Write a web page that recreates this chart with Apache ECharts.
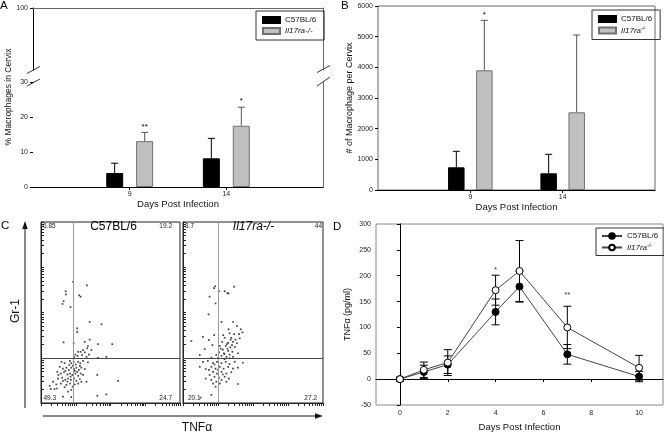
<!DOCTYPE html>
<html><head><meta charset="utf-8">
<script src="https://cdn.jsdelivr.net/npm/echarts@6/dist/echarts.min.js"></script>
<style>html,body{margin:0;padding:0;background:#fff}#c{width:664px;height:433px}</style>
</head><body><div id="c"></div>
<script>
// ---------- Panel A: % macrophages in cervix ----------
const daysAB = ['9', '14'];
const aWildMean = [4.0, 8.2];
const aWildErr = [2.8, 5.7];
const aKoMean = [13.1, 17.5];
const aKoErr = [2.5, 5.3];
const aKoStars = ['**', '*'];
const aTopTick = [100];

// ---------- Panel B: # macrophages per cervix ----------
const bWildMean = [740, 544];
const bWildErr = [522, 619];
const bKoMean = [3903, 2533];
const bKoErr = [1630, 2521];
const bKoStars = ['*', ''];

// ---------- Panel C: flow cytometry (log10 fluorescence, TNFa vs Gr-1) ----------
const cGateX = [0.92, 1.0];
const cGateY = [1.0, 1.0];
const cQuadWild = ['6.85', '19.2', '49.3', '24.7'];
const cQuadKo = ['8.7', '44', '20.1', '27.2'];
const cWild = [[.92,2.68],[1.32,2.60],[.71,2.47],[.72,2.40],[1.10,2.38],[1.14,2.35],[.65,2.25],[.62,2.19],[.85,2.12],[1.40,1.79],[1.74,1.74],[1.04,1.65],[1.04,1.57],[.65,1.34],[.94,1.32],[1.26,1.35],[1.40,1.40],[1.64,1.30],[2.05,1.30],[1.35,1.26],[1.33,1.21],[1.21,1.17],[1.14,1.13],[1.07,1.13],[1.26,1.12],[1.45,1.17],[.99,1.07],[1.05,1.04],[1.18,1.06],[1.38,1.07],[1.88,1.02],[1.64,1.00],[1.31,1.02],[.95,1.02],
[.59,.91],[.68,.88],[.83,.93],[.87,.88],[.94,.91],[1.0,.85],[1.07,.91],[1.13,.88],[1.21,.93],[1.35,.90],[.54,.80],[.63,.76],[.73,.78],[.80,.73],[.87,.78],[.95,.75],[1.02,.78],[1.09,.73],[1.16,.78],[1.26,.75],[.47,.69],[.57,.65],[.66,.68],[.76,.63],[.83,.65],[.90,.62],[.99,.65],[1.07,.60],[1.14,.65],[1.21,.62],[1.62,.62],[.49,.54],[.61,.56],[.70,.51],[.78,.54],[.86,.51],[.95,.54],[1.02,.49],[1.12,.53],[1.31,.47],[2.22,.49],[.35,.47],[.25,.38],[.44,.41],[.57,.43],[.73,.40],[.84,.43],[.97,.41],[1.07,.43],[.39,.31],[.46,.32],[.68,.35],[.87,.29],[.28,.31],[.63,.14],[.87,.13],[1.62,.16],[1.88,.19],[.78,.25],[1.16,.47],[.50,.62],[.92,.82],[.81,.84],[1.04,.69],[.70,.71],[.85,.58],[.97,.71],[1.12,.82],[.76,.47],[.63,.49],[.91,.36]];
const cKo = [[.92,2.58],[.89,2.54],[1.03,2.47],[1.19,2.47],[1.27,2.43],[1.30,2.42],[1.46,2.57],[.76,2.35],[.93,2.20],[.73,1.96],[1.10,1.79],[1.43,1.79],[1.54,1.70],[1.65,1.63],[1.30,1.63],[1.33,1.54],[1.46,1.52],[1.60,1.52],[1.70,1.56],[.89,1.50],[.57,1.46],[1.19,1.44],[1.38,1.44],[1.62,1.43],[.24,1.37],[.74,1.39],[1.12,1.35],[1.29,1.33],[1.43,1.35],[1.54,1.32],[.84,1.28],[1.05,1.26],[1.22,1.26],[1.35,1.23],[1.48,1.24],[.62,1.19],[1.14,1.18],[1.29,1.15],[1.41,1.13],[1.03,1.12],[1.17,1.10],[1.33,1.07],[.95,1.06],[1.10,1.04],[1.24,1.02],[1.43,1.02],[.48,1.06],[1.57,1.10],[1.08,1.20],[1.25,1.30],[1.36,1.40],[1.15,1.50],[1.50,1.40],[1.27,1.20],[1.40,1.28],[1.18,1.08],
[.57,.91],[.71,.93],[.86,.88],[.97,.91],[1.10,.88],[1.22,.91],[1.33,.86],[1.71,.89],[.48,.80],[.81,.80],[.93,.76],[1.05,.80],[1.16,.76],[1.29,.80],[1.43,.76],[1.57,.78],[.86,.69],[.97,.65],[1.10,.69],[1.24,.65],[1.38,.68],[.76,.62],[.90,.58],[1.03,.56],[1.19,.58],[1.31,.54],[.81,.51],[.95,.47],[1.10,.51],[.65,.54],[.86,.43],[1.05,.43],[1.24,.47],[1.57,.42],[.93,.36],[.81,.18],[.50,.12],[.65,.75],[.74,.73],[1.0,.73],[1.14,.63],[.90,.85],[1.0,.99],[1.19,.97],[1.33,.99],[.81,1.0],[1.48,.91]];

// ---------- Panel D: TNFa over time ----------
const daysD = [0, 1, 2, 4, 5, 7, 10];
const dWildMean = [0, 14, 28, 130, 179, 48, 5];
const dWildErr = [3, 13, 17, 25, 30, 19, 10];
const dKoMean = [0, 18, 32, 172, 209, 100, 22];
const dKoErr = [4, 15, 25, 29, 59, 41, 24];
const dStars = [[4, 212, '*'], [7, 164, '**']];
const dTicks = [0, 2, 4, 6, 8, 10];

const FONT = 'Liberation Sans';
const catsAB = [''].concat(daysAB, ['']);
const pad = a => ['-'].concat(a, ['-']);
const logTicks = [];
for (let d = 0; d < 4; d++) for (let k = 1; k <= 9; k++) logTicks.push(d + Math.log10(k));
logTicks.push(4);
const plain = v => String(v);

function upErr(offset, color, stars) {
  return function (params, api) {
    const x = api.value(0), m = api.value(1), e = api.value(2);
    const p0 = api.coord([x, m]), p1 = api.coord([x, m + e]);
    const cx = p0[0] + offset;
    const ch = [
      {type: 'line', shape: {x1: cx, y1: p0[1], x2: cx, y2: p1[1]}, style: {stroke: color, lineWidth: 1}},
      {type: 'line', shape: {x1: cx - 3.5, y1: p1[1], x2: cx + 3.5, y2: p1[1]}, style: {stroke: color, lineWidth: 1}}
    ];
    if (stars && stars[params.dataIndex]) {
      ch.push({type: 'text', x: cx, y: p1[1] - 6, style: {text: stars[params.dataIndex], fontSize: 8, fontFamily: FONT, fill: '#000', align: 'center', verticalAlign: 'middle'}});
    }
    return {type: 'group', children: ch};
  };
}
function bothErr(params, api) {
  const x = api.value(0), m = api.value(1), e = api.value(2);
  const a = api.coord([x, m - e]), b = api.coord([x, m + e]);
  const st = {stroke: '#000', lineWidth: 1};
  return {type: 'group', children: [
    {type: 'line', shape: {x1: a[0], y1: a[1], x2: b[0], y2: b[1]}, style: st},
    {type: 'line', shape: {x1: a[0] - 4, y1: a[1], x2: a[0] + 4, y2: a[1]}, style: st},
    {type: 'line', shape: {x1: b[0] - 4, y1: b[1], x2: b[0] + 4, y2: b[1]}, style: st}
  ]};
}

const black = {lineStyle: {color: '#000', width: 1}};
const edge = {show: true, lineStyle: {color: '#666', width: 1}};
const none = {show: false};
function axisLbl() { return {fontSize: 7, fontFamily: FONT, color: '#222', formatter: plain}; }

function catX(gi) {
  return {gridIndex: gi, type: 'category', data: catsAB, boundaryGap: false,
    axisLine: black, axisTick: {show: true, length: 3, interval: (i) => i === 1 || i === 2, lineStyle: {color: '#000'}},
    axisLabel: {interval: 0, margin: 4, fontSize: 7, fontFamily: FONT, color: '#222'},
    name: 'Days Post Infection', nameLocation: 'middle', nameGap: 12,
    nameTextStyle: {fontSize: 9.5, fontFamily: FONT, color: '#111'}, splitLine: none};
}
function logAx(gi, isY) {
  return {gridIndex: gi, type: 'value', min: 0, max: 4,
    axisLine: {show: true, lineStyle: {color: '#222', width: 1}},
    axisTick: {show: true, inside: isY, length: 3, customValues: logTicks, lineStyle: {color: '#222'}},
    axisLabel: none, splitLine: none};
}

const option = {
  animation: false,
  textStyle: {fontFamily: FONT},
  grid: [
    {left: 33, top: 8, width: 290, height: 62},
    {left: 33, top: 82, width: 290, height: 105},
    {left: 378, top: 6, width: 277, height: 184, show: true, borderColor: '#666', borderWidth: 1},
    {left: 41, top: 222, width: 139, height: 181, show: true, borderColor: '#222', borderWidth: 1},
    {left: 183, top: 222, width: 140, height: 181, show: true, borderColor: '#222', borderWidth: 1},
    {left: 376, top: 224, width: 287, height: 182, show: true, borderColor: '#888', borderWidth: 1}
  ],
  xAxis: [
    {gridIndex: 0, type: 'value', position: 'top', min: 0, max: 1, axisLine: edge, axisTick: none, axisLabel: none, splitLine: none},
    catX(1),
    catX(2),
    logAx(3, false),
    logAx(4, false),
    {gridIndex: 5, type: 'value', min: -1, max: 11, axisLine: black,
      axisTick: {show: true, length: 3, customValues: dTicks, lineStyle: {color: '#000'}},
      axisLabel: Object.assign(axisLbl(), {customValues: dTicks, margin: 5}), splitLine: none,
      name: 'Days Post Infection', nameLocation: 'middle', nameGap: 17,
      nameTextStyle: {fontSize: 9.5, fontFamily: FONT, color: '#111'}}
  ],
  yAxis: [
    {gridIndex: 0, type: 'value', min: 50, max: 100, axisLine: black,
      axisTick: {show: true, length: 3, customValues: aTopTick, lineStyle: {color: '#000'}},
      axisLabel: Object.assign(axisLbl(), {customValues: aTopTick, margin: 5}), splitLine: none},
    {gridIndex: 0, type: 'value', position: 'right', min: 50, max: 100, axisLine: edge, axisTick: none, axisLabel: none, splitLine: none},
    {gridIndex: 1, type: 'value', min: 0, max: 30, interval: 10, axisLine: black,
      axisTick: {show: true, length: 3, lineStyle: {color: '#000'}},
      axisLabel: Object.assign(axisLbl(), {margin: 5}), splitLine: none},
    {gridIndex: 1, type: 'value', position: 'right', min: 0, max: 30, axisLine: edge, axisTick: none, axisLabel: none, splitLine: none},
    {gridIndex: 2, type: 'value', min: 0, max: 6000, interval: 1000, axisLine: black,
      axisTick: {show: true, length: 3, lineStyle: {color: '#000'}},
      axisLabel: Object.assign(axisLbl(), {margin: 5}), splitLine: none,
      name: '# of Macrophage per Cervix', nameLocation: 'middle', nameGap: 24,
      nameTextStyle: {fontSize: 9, fontFamily: FONT, color: '#111'}},
    logAx(3, true),
    logAx(4, true),
    {gridIndex: 5, type: 'value', min: -50, max: 300, interval: 50, axisLine: black,
      axisTick: {show: true, length: 3, lineStyle: {color: '#000'}},
      axisLabel: Object.assign(axisLbl(), {margin: 5}), splitLine: none,
      name: 'TNFα (pg/ml)', nameLocation: 'middle', nameGap: 24,
      nameTextStyle: {fontSize: 9, fontFamily: FONT, color: '#111'}}
  ],
  legend: [
    {left: 256, top: 11, orient: 'vertical', data: ['A1', 'A2'], icon: 'rect', selectedMode: false,
      itemWidth: 17, itemHeight: 6, itemGap: 3, padding: [5, 8, 5, 6], borderColor: '#333', borderWidth: 1,
      formatter: n => n === 'A1' ? 'C57BL/6' : '{i|Il17ra-/-}',
      textStyle: {fontSize: 8, fontFamily: FONT, color: '#111', rich: {i: {fontStyle: 'italic', fontSize: 8, fontFamily: FONT}}}},
    {left: 592, top: 10, orient: 'vertical', data: ['B1', 'B2'], icon: 'rect', selectedMode: false,
      itemWidth: 17, itemHeight: 6, itemGap: 3, padding: [5, 8, 5, 6], borderColor: '#333', borderWidth: 1,
      formatter: n => n === 'B1' ? 'C57BL/6' : '{i|Il17ra}{s|-/-}',
      textStyle: {fontSize: 8, fontFamily: FONT, color: '#111', rich: {i: {fontStyle: 'italic', fontSize: 8, fontFamily: FONT}, s: {fontStyle: 'italic', fontSize: 5, fontFamily: FONT, verticalAlign: 'top', padding: [0, 0, 4, 0]}}}},
    {left: 596, top: 228, orient: 'vertical', data: ['D1', 'D2'], selectedMode: false,
      itemWidth: 20, itemHeight: 7, itemGap: 3, padding: [4, 6, 4, 5], borderColor: '#333', borderWidth: 1,
      formatter: n => n === 'D1' ? 'C57BL/6' : '{i|Il17ra}{s|-/-}',
      textStyle: {fontSize: 8, fontFamily: FONT, color: '#111', rich: {i: {fontStyle: 'italic', fontSize: 8, fontFamily: FONT}, s: {fontStyle: 'italic', fontSize: 5, fontFamily: FONT, verticalAlign: 'top', padding: [0, 0, 4, 0]}}}}
  ],
  series: [
    // A
    {name: 'A1', type: 'bar', xAxisIndex: 1, yAxisIndex: 2, data: pad(aWildMean), barWidth: 17, barGap: '76%',
      itemStyle: {color: '#000', borderColor: '#000', borderWidth: 1}},
    {name: 'A2', type: 'bar', xAxisIndex: 1, yAxisIndex: 2, data: pad(aKoMean), barWidth: 17, barGap: '76%',
      itemStyle: {color: '#c0c0c0', borderColor: '#707070', borderWidth: 1}},
    {type: 'custom', xAxisIndex: 1, yAxisIndex: 2, z: 5, renderItem: upErr(-15, '#000', null),
      data: daysAB.map((d, i) => [d, aWildMean[i], aWildErr[i]])},
    {type: 'custom', xAxisIndex: 1, yAxisIndex: 2, z: 5, renderItem: upErr(15, '#555', aKoStars),
      data: daysAB.map((d, i) => [d, aKoMean[i], aKoErr[i]])},
    // B
    {name: 'B1', type: 'bar', xAxisIndex: 2, yAxisIndex: 4, data: pad(bWildMean), barWidth: 16.5, barGap: '70%',
      itemStyle: {color: '#000', borderColor: '#000', borderWidth: 1}},
    {name: 'B2', type: 'bar', xAxisIndex: 2, yAxisIndex: 4, data: pad(bKoMean), barWidth: 16.5, barGap: '70%',
      itemStyle: {color: '#c0c0c0', borderColor: '#707070', borderWidth: 1}},
    {type: 'custom', xAxisIndex: 2, yAxisIndex: 4, z: 5, renderItem: upErr(-14, '#000', null),
      data: daysAB.map((d, i) => [d, bWildMean[i], bWildErr[i]])},
    {type: 'custom', xAxisIndex: 2, yAxisIndex: 4, z: 5, renderItem: upErr(14, '#555', bKoStars),
      data: daysAB.map((d, i) => [d, bKoMean[i], bKoErr[i]])},
    // C
    {type: 'scatter', xAxisIndex: 3, yAxisIndex: 5, data: cWild, symbol: 'rect', symbolSize: 1.7, itemStyle: {color: '#111'},
      markLine: {silent: true, symbol: 'none', label: {show: false}, lineStyle: {type: 'solid', width: 1},
        data: [{xAxis: cGateX[0], lineStyle: {color: '#999', type: 'solid'}}, {yAxis: cGateY[0], lineStyle: {color: '#444', type: 'solid'}}]}},
    {type: 'scatter', xAxisIndex: 4, yAxisIndex: 6, data: cKo, symbol: 'rect', symbolSize: 1.7, itemStyle: {color: '#111'},
      markLine: {silent: true, symbol: 'none', label: {show: false}, lineStyle: {type: 'solid', width: 1},
        data: [{xAxis: cGateX[1], lineStyle: {color: '#999', type: 'solid'}}, {yAxis: cGateY[1], lineStyle: {color: '#444', type: 'solid'}}]}},
    // D
    {type: 'custom', xAxisIndex: 5, yAxisIndex: 7, z: 1, renderItem: bothErr,
      data: daysD.map((d, i) => [d, dWildMean[i], dWildErr[i]])},
    {type: 'custom', xAxisIndex: 5, yAxisIndex: 7, z: 1, renderItem: bothErr,
      data: daysD.map((d, i) => [d, dKoMean[i], dKoErr[i]])},
    {name: 'D1', type: 'line', xAxisIndex: 5, yAxisIndex: 7, z: 3, data: daysD.map((d, i) => [d, dWildMean[i]]),
      symbol: 'circle', symbolSize: 7, lineStyle: {color: '#444', width: 1}, itemStyle: {color: '#000', borderColor: '#000', borderWidth: 1}},
    {name: 'D2', type: 'line', xAxisIndex: 5, yAxisIndex: 7, z: 4, data: daysD.map((d, i) => [d, dKoMean[i]]),
      symbol: 'circle', symbolSize: 7, lineStyle: {color: '#444', width: 1}, itemStyle: {color: '#fff', borderColor: '#000', borderWidth: 1}},
    {type: 'scatter', xAxisIndex: 5, yAxisIndex: 7, z: 5, symbolSize: 0.1, itemStyle: {color: 'transparent'},
      data: dStars.map(s => [s[0], s[1]]),
      label: {show: true, position: 'inside', formatter: p => dStars[p.dataIndex][2], fontSize: 8, fontFamily: FONT, color: '#000'}}
  ],
  graphic: [
    {type: 'text', left: 0, top: 0, style: {text: 'A', fontSize: 11.5, fontFamily: FONT, fill: '#000'}},
    {type: 'text', left: 341, top: 0, style: {text: 'B', fontSize: 11.5, fontFamily: FONT, fill: '#000'}},
    {type: 'text', left: 1, top: 220, style: {text: 'C', fontSize: 11.5, fontFamily: FONT, fill: '#000'}},
    {type: 'text', left: 333, top: 221, style: {text: 'D', fontSize: 11.5, fontFamily: FONT, fill: '#000'}},
    {type: 'text', x: 8.5, y: 97, rotation: Math.PI / 2, style: {text: '% Macrophages in Cervix', fontSize: 8.5, fontFamily: FONT, fill: '#111', align: 'center', verticalAlign: 'middle'}},
    // axis break marks (panel A)
    {type: 'line', shape: {x1: 27, y1: 73.5, x2: 40, y2: 66.5}, style: {stroke: '#333', lineWidth: 1}},
    {type: 'line', shape: {x1: 27, y1: 86, x2: 40, y2: 79}, style: {stroke: '#333', lineWidth: 1}},
    {type: 'line', shape: {x1: 317, y1: 72.5, x2: 330, y2: 65.5}, style: {stroke: '#333', lineWidth: 1}},
    {type: 'line', shape: {x1: 317, y1: 86, x2: 330, y2: 77}, style: {stroke: '#333', lineWidth: 1}},
    // panel C texts
    {type: 'text', x: 113.5, y: 227, style: {text: 'C57BL/6', fontSize: 12, fontFamily: FONT, fill: '#000', align: 'center', verticalAlign: 'middle'}},
    {type: 'text', x: 253.5, y: 227, style: {text: 'Il17ra-/-', fontSize: 12, fontStyle: 'italic', fontFamily: FONT, fill: '#000', align: 'center', verticalAlign: 'middle'}},
    {type: 'text', x: 43, y: 226.5, style: {text: cQuadWild[0], fontSize: 6.5, fontFamily: FONT, fill: '#222', align: 'left', verticalAlign: 'middle'}},
    {type: 'text', x: 172, y: 226.5, style: {text: cQuadWild[1], fontSize: 6.5, fontFamily: FONT, fill: '#222', align: 'right', verticalAlign: 'middle'}},
    {type: 'text', x: 43.5, y: 398, style: {text: cQuadWild[2], fontSize: 6.5, fontFamily: FONT, fill: '#222', align: 'left', verticalAlign: 'middle'}},
    {type: 'text', x: 172, y: 398, style: {text: cQuadWild[3], fontSize: 6.5, fontFamily: FONT, fill: '#222', align: 'right', verticalAlign: 'middle'}},
    {type: 'text', x: 185, y: 226.5, style: {text: cQuadKo[0], fontSize: 6.5, fontFamily: FONT, fill: '#222', align: 'left', verticalAlign: 'middle'}},
    {type: 'text', x: 322, y: 226.5, style: {text: cQuadKo[1], fontSize: 6.5, fontFamily: FONT, fill: '#222', align: 'right', verticalAlign: 'middle'}},
    {type: 'text', x: 188, y: 398, style: {text: cQuadKo[2], fontSize: 6.5, fontFamily: FONT, fill: '#222', align: 'left', verticalAlign: 'middle'}},
    {type: 'text', x: 317, y: 398, style: {text: cQuadKo[3], fontSize: 6.5, fontFamily: FONT, fill: '#222', align: 'right', verticalAlign: 'middle'}},
    // arrows
    {type: 'line', shape: {x1: 25, y1: 408, x2: 25, y2: 228}, style: {stroke: '#111', lineWidth: 1}},
    {type: 'polygon', shape: {points: [[25, 221], [22.3, 229], [27.7, 229]]}, style: {fill: '#111'}},
    {type: 'line', shape: {x1: 43, y1: 416, x2: 316, y2: 416}, style: {stroke: '#111', lineWidth: 1}},
    {type: 'polygon', shape: {points: [[323, 416], [315, 413.3], [315, 418.7]]}, style: {fill: '#111'}},
    {type: 'text', x: 16, y: 311, rotation: Math.PI / 2, style: {text: 'Gr-1', fontSize: 12, fontFamily: FONT, fill: '#111', align: 'center', verticalAlign: 'middle'}},
    {type: 'text', x: 197, y: 428, style: {text: 'TNFα', fontSize: 12, fontFamily: FONT, fill: '#111', align: 'center', verticalAlign: 'middle'}}
  ]
};
const chart = echarts.init(document.getElementById('c'));
chart.setOption(option);
</script></body></html>
